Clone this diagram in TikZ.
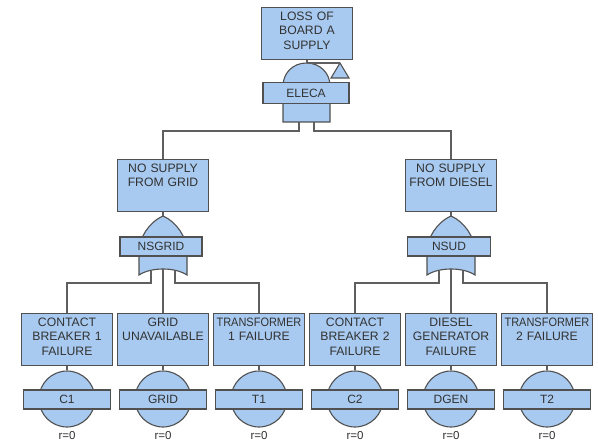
\documentclass[tikz,border=0pt]{standalone}
\usepackage{fontspec}
\setmainfont{Liberation Sans}
\definecolor{evfill}{RGB}{168,202,240}
\definecolor{edge}{RGB}{80,80,80}
\definecolor{txt}{RGB}{50,50,50}
\definecolor{wire}{RGB}{95,95,95}
\newcommand{\narrow}[1]{\scalebox{0.9}[1]{#1}}
\begin{document}
\begin{tikzpicture}[x=1pt,y=-1pt,
  box/.style={draw=edge, fill=evfill, line width=1.1pt, minimum width=91pt,
    minimum height=52pt, inner sep=0pt, anchor=north},
  boxtext/.style={anchor=north, align=center, text width=93pt, inner sep=0pt,
    text=txt, font=\fontsize{12.2}{14.5}\selectfont},
  bar/.style={draw=edge, fill=evfill, line width=1.1pt, minimum height=19pt,
    inner sep=0pt, text=txt, font=\fontsize{12}{13}\selectfont},
  gateshape/.style={draw=edge, fill=evfill, line width=1.1pt},
  basic/.style={circle, draw=edge, fill=evfill, line width=1.1pt,
    minimum size=56pt, inner sep=0pt},
  rate/.style={text=txt, inner sep=0pt, font=\fontsize{11.5}{13}\selectfont},
  wire/.style={draw=wire, line width=1.1pt}
]
\fill[white] (0,0) rectangle (598,441);
\useasboundingbox (0,0) rectangle (598,441);

% ---------- top event and AND gate ----------
\node[box] (top) at (307,7) {};
\node[boxtext] (toptext) at ([yshift=-4.5pt]top.north) {LOSS OF\\BOARD A\\SUPPLY};

\path[gateshape] (283,122) -- (283,86)
  .. controls (283,73) and (293,63) .. (306.5,63)
  .. controls (320,63) and (330,73) .. (330,86) -- (330,122) -- cycle;
\node[bar, minimum width=86pt, minimum height=21pt] (eleca) at (306,93) {ELECA};
\coordinate (elecaTop) at (307,63);
\coordinate (elecaL) at (299,122);
\coordinate (elecaR) at (314,122);
\coordinate (xfer) at (340,63);
\path[gateshape] (xfer) -- (349,78) -- (331,78) -- cycle;

% ---------- intermediate events ----------
\node[box] (grid) at (163,159) {};
\node[boxtext] at ([yshift=-4.5pt]grid.north) {NO SUPPLY\\FROM GRID};
\node[box] (diesel) at (451,159) {};
\node[boxtext] at ([yshift=-4.5pt]diesel.north) {NO SUPPLY\\FROM DIESEL};

% OR gates
\path[gateshape] (139,275) -- (139,252)
  .. controls (139,238) and (149,222) .. (163,216)
  .. controls (177,222) and (187,238) .. (187,252) -- (187,275)
  .. controls (175,267) and (151,267) .. (139,275) -- cycle;
\node[bar, minimum width=82pt] (nsgrid) at (161,246.5) {NSGRID};
\coordinate (nsgridTop) at (163,216);
\coordinate (nsgridL) at (151,271);
\coordinate (nsgridM) at (163,269);
\coordinate (nsgridR) at (175,271);

\path[gateshape] (427,275) -- (427,252)
  .. controls (427,238) and (437,222) .. (451,216)
  .. controls (465,222) and (475,238) .. (475,252) -- (475,275)
  .. controls (463,267) and (439,267) .. (427,275) -- cycle;
\node[bar, minimum width=83pt] (nsud) at (449,246.5) {NSUD};
\coordinate (nsudTop) at (451,216);
\coordinate (nsudL) at (439,271);
\coordinate (nsudM) at (451,269);
\coordinate (nsudR) at (463,271);

% ---------- basic events ----------
\node[box] (cb1) at (67,313) {};
\node[boxtext] at ([yshift=-4.5pt]cb1.north) {CONTACT\\BREAKER 1\\FAILURE};
\node[basic] (cb1c) at (67,399) {};
\node[bar, minimum width=87pt] (c1) at (67,399.5) {C1};
\node[rate] (c1r) at (67,436) {r=0};

\node[box] (gridu) at (163,313) {};
\node[boxtext] at ([yshift=-4.5pt]gridu.north) {GRID\\UNAVAILABLE};
\node[basic] (gridc) at (163,399) {};
\node[bar, minimum width=87pt] (gridb) at (163,399.5) {GRID};
\node[rate] (gridr) at (163,436) {r=0};

\node[box] (tf1) at (259,313) {};
\node[boxtext] at ([yshift=-4.5pt]tf1.north) {\narrow{TRANSFORMER}\\1 FAILURE};
\node[basic] (tf1c) at (259,399) {};
\node[bar, minimum width=87pt] (t1) at (259,399.5) {T1};
\node[rate] (t1r) at (259,436) {r=0};

\node[box] (cb2) at (355,313) {};
\node[boxtext] at ([yshift=-4.5pt]cb2.north) {CONTACT\\BREAKER 2\\FAILURE};
\node[basic] (cb2c) at (355,399) {};
\node[bar, minimum width=87pt] (c2) at (355,399.5) {C2};
\node[rate] (c2r) at (355,436) {r=0};

\node[box] (dg) at (451,313) {};
\node[boxtext] at ([yshift=-4.5pt]dg.north) {DIESEL\\GENERATOR\\FAILURE};
\node[basic] (dgc) at (451,399) {};
\node[bar, minimum width=87pt] (dgen) at (451,399.5) {DGEN};
\node[rate] (dgr) at (451,436) {r=0};

\node[box] (tf2) at (547,313) {};
\node[boxtext] at ([yshift=-4.5pt]tf2.north) {\narrow{TRANSFORMER}\\2 FAILURE};
\node[basic] (tf2c) at (547,399) {};
\node[bar, minimum width=87pt] (t2) at (547,399.5) {T2};
\node[rate] (t2r) at (547,436) {r=0};

% ---------- connectors ----------
\draw[wire] (top.south) -- (elecaTop);
\draw[wire] (elecaTop) -- (xfer);
\draw[wire] (elecaL) -- ++(0,9) -| (grid.north);
\draw[wire] (elecaR) -- ++(0,9) -| (diesel.north);
\draw[wire] (grid.south) -- (nsgridTop);
\draw[wire] (diesel.south) -- (nsudTop);

\draw[wire] (nsgridL) -- (151,283) -| (cb1.north);
\draw[wire] (nsgridM) -- (gridu.north);
\draw[wire] (nsgridR) -- (175,283) -| (tf1.north);
\draw[wire] (nsudL) -- (439,283) -| (cb2.north);
\draw[wire] (nsudM) -- (dg.north);
\draw[wire] (nsudR) -- (463,283) -| (tf2.north);

\draw[wire] (cb1.south) -- (cb1c.north);
\draw[wire] (gridu.south) -- (gridc.north);
\draw[wire] (tf1.south) -- (tf1c.north);
\draw[wire] (cb2.south) -- (cb2c.north);
\draw[wire] (dg.south) -- (dgc.north);
\draw[wire] (tf2.south) -- (tf2c.north);
\end{tikzpicture}
\end{document}
